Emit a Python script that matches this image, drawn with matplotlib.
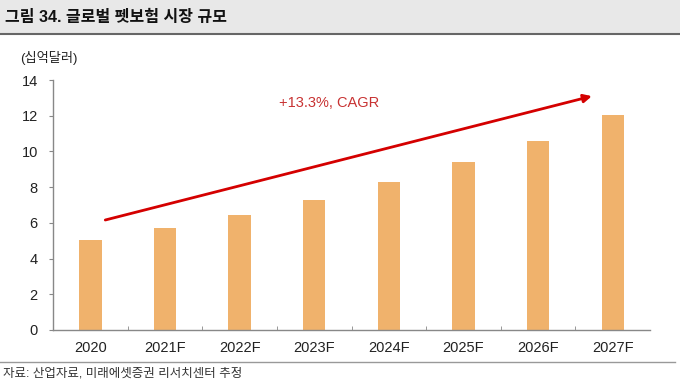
import matplotlib
matplotlib.use("Agg")
import matplotlib.pyplot as plt
from matplotlib.patches import Rectangle
from matplotlib.lines import Line2D

plt.rcParams['font.family'] = ['Liberation Sans', 'Noto Sans CJK KR', 'DejaVu Sans']

categories = ["2020", "2021F", "2022F", "2023F", "2024F", "2025F", "2026F", "2027F"]
values = [5.04, 5.71, 6.44, 7.28, 8.29, 9.41, 10.58, 12.04]
yticks = [0, 2, 4, 6, 8, 10, 12, 14]
title = "그림 34. 글로벌 펫보험 시장 규모"
unit = "(십억달러)"
source = "자료: 산업자료, 미래에셋증권 리서치센터 추정"
cagr_text = "+13.3%, CAGR"

fig = plt.figure(figsize=(6.8, 3.85), dpi=100)
ax = fig.add_axes([0.078, 0.143, 0.878, 0.649])

x = list(range(len(categories)))
ax.bar(x, values, width=0.3, color="#F0B26C", zorder=2)
ax.set_xlim(-0.5, len(categories) - 0.5)
ax.set_ylim(0, 14)
ax.set_yticks(yticks)
ax.set_xticks(x)
ax.set_xticklabels(categories)
ax.set_xticks([i + 0.5 for i in x[:-1]], minor=True)
ax.tick_params(axis='x', which='major', length=0, pad=8, labelsize=10.5, colors="#222222")
ax.tick_params(axis='x', which='minor', length=3, direction='in', color="#888888")
ax.tick_params(axis='y', length=3, direction='out', color="#888888", labelsize=10.5, labelcolor="#222222", pad=8)
for s in ['top', 'right']:
    ax.spines[s].set_visible(False)
for s in ['left', 'bottom']:
    ax.spines[s].set_color("#888888")
    ax.spines[s].set_linewidth(1.0)

ax.annotate("", xy=(6.72, 13.1), xytext=(0.2, 6.16),
            arrowprops=dict(arrowstyle="-|>", color="#D40000", lw=2.0,
                            mutation_scale=12, shrinkA=0, shrinkB=0), zorder=3)
ax.text(3.2, 12.7, cagr_text, color="#C83232", fontsize=10.5, ha="center", va="center")

# title band
fig.patches.append(Rectangle((0, 1 - 33 / 385), 1, 33 / 385, transform=fig.transFigure,
                             facecolor="#E8E8E8", edgecolor="none", zorder=0))
fig.lines.append(Line2D([0, 1], [1 - 34 / 385, 1 - 34 / 385], transform=fig.transFigure,
                        color="#666666", lw=1.5))
fig.text(5 / 680, 1 - 17 / 385, title, fontsize=11.5, fontweight='bold', va='center', ha='left', color="#111111")
fig.text(20 / 680, 1 - 58 / 385, unit, fontsize=9.5, va='center', ha='left', color="#222222")

fig.lines.append(Line2D([0, 675 / 680], [1 - 362 / 385, 1 - 362 / 385], transform=fig.transFigure,
                        color="#999999", lw=1.0))
fig.text(3 / 680, 1 - 373 / 385, source, fontsize=9, va='center', ha='left', color="#333333")

fig.savefig("out.png", dpi=100)
